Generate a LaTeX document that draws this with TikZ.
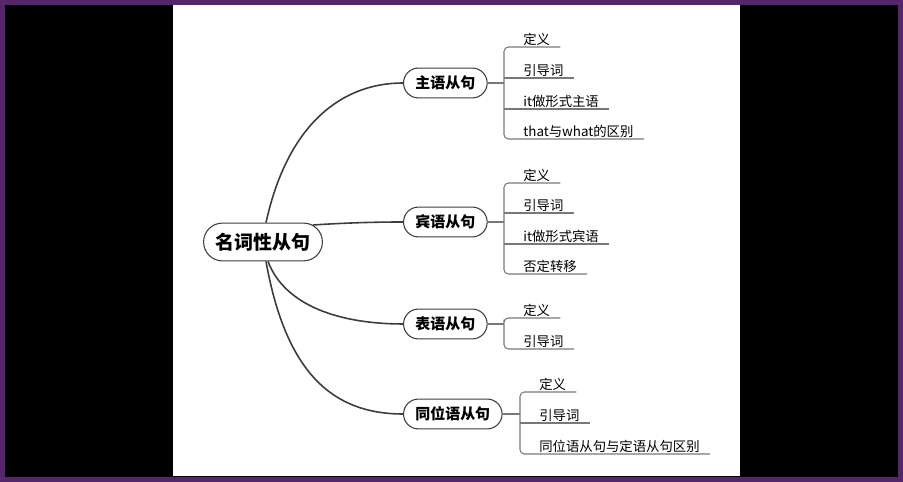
\documentclass[tikz,border=0pt]{standalone}
\usepackage{fontspec}
\setmainfont{Noto Sans CJK SC}
\usetikzlibrary{calc}
\definecolor{framec}{RGB}{85,38,108}
\definecolor{wire}{RGB}{60,60,60}
\definecolor{twigc}{RGB}{120,120,120}
\tikzset{
  topic/.style={draw=wire, line width=0.6pt, rounded corners=10.7pt, minimum height=21.5pt,
    inner xsep=6.8pt, font=\bfseries\fontsize{10.8}{12}\selectfont},
  subtopic/.style={draw=wire, line width=0.6pt, rounded corners=8.5pt, minimum height=17pt,
    inner xsep=6.8pt, anchor=west, font=\bfseries\fontsize{8.5}{10}\selectfont},
  leaf/.style={anchor=south west, inner xsep=5.7pt, inner ysep=0.6pt,
    font=\fontsize{7.6}{9}\selectfont},
  bough/.style={draw=wire, line width=0.9pt},
  twig/.style={draw=twigc, line width=0.6pt},
}
\begin{document}
\begin{tikzpicture}[x=0.02cm, y=0.02cm]
  % background and page
  \fill[black] (0,0) rectangle (903,482);
  \draw[framec, line width=2.84pt] (2.5,2.5) rectangle (900.5,479.5);
  \fill[white] (173,6) rectangle (740,477);

  % topics
  \node[topic] (main) at (263,240) {名词性从句};
  \node[subtopic] (b1) at (403,399) {主语从句};
  \node[subtopic] (b2) at (403,260) {宾语从句};
  \node[subtopic] (b3) at (403,158) {表语从句};
  \node[subtopic] (b4) at (403,68) {同位语从句};

  \draw[bough] ([xshift=0.06cm]main.north) .. controls +(22,100) and +(-60,0) .. (b1.west);
  \draw[bough] ($(main.center)+(50,17)$) .. controls +(30,2) and +(-30,0) .. (b2.west);
  \draw[bough] ([xshift=0.1cm]main.south) .. controls +(17,-45) and +(-62,0) .. (b3.west);
  \draw[bough] ([xshift=0.06cm]main.south) .. controls +(20,-112) and +(-70,0) .. (b4.west);

  % 主语从句
  \coordinate (j1) at (504,399);
  \node[leaf] (l11) at (513,435) {定义};
  \node[leaf] (l12) at (513,404) {引导词};
  \node[leaf] (l13) at (513,373) {it做形式主语};
  \node[leaf] (l14) at (513,343) {that与what的区别};
  \draw[twig] (b1.east) -- (j1);
  \draw[twig, rounded corners=2.5pt] (l11.south east) -| (j1) |- (l14.south east);
  \draw[twig] (l12.south east) -- (l12.south east -| j1);
  \draw[twig] (l13.south east) -- (l13.south east -| j1);

  % 宾语从句
  \coordinate (j2) at (504,260);
  \node[leaf] (l21) at (513,299) {定义};
  \node[leaf] (l22) at (513,269) {引导词};
  \node[leaf] (l23) at (513,238) {it做形式宾语};
  \node[leaf] (l24) at (513,208) {否定转移};
  \draw[twig] (b2.east) -- (j2);
  \draw[twig, rounded corners=2.5pt] (l21.south east) -| (j2) |- (l24.south east);
  \draw[twig] (l22.south east) -- (l22.south east -| j2);
  \draw[twig] (l23.south east) -- (l23.south east -| j2);

  % 表语从句
  \coordinate (j3) at (504,158);
  \node[leaf] (l31) at (513,164) {定义};
  \node[leaf] (l32) at (513,133) {引导词};
  \draw[twig] (b3.east) -- (j3);
  \draw[twig, rounded corners=2.5pt] (l31.south east) -| (j3) |- (l32.south east);

  % 同位语从句
  \coordinate (j4) at (520,68);
  \node[leaf] (l41) at (529,90) {定义};
  \node[leaf] (l42) at (529,59) {引导词};
  \node[leaf] (l43) at (529,28) {同位语从句与定语从句区别};
  \draw[twig] (b4.east) -- (j4);
  \draw[twig, rounded corners=2.5pt] (l41.south east) -| (j4) |- (l43.south east);
  \draw[twig] (l42.south east) -- (l42.south east -| j4);
\end{tikzpicture}
\end{document}
